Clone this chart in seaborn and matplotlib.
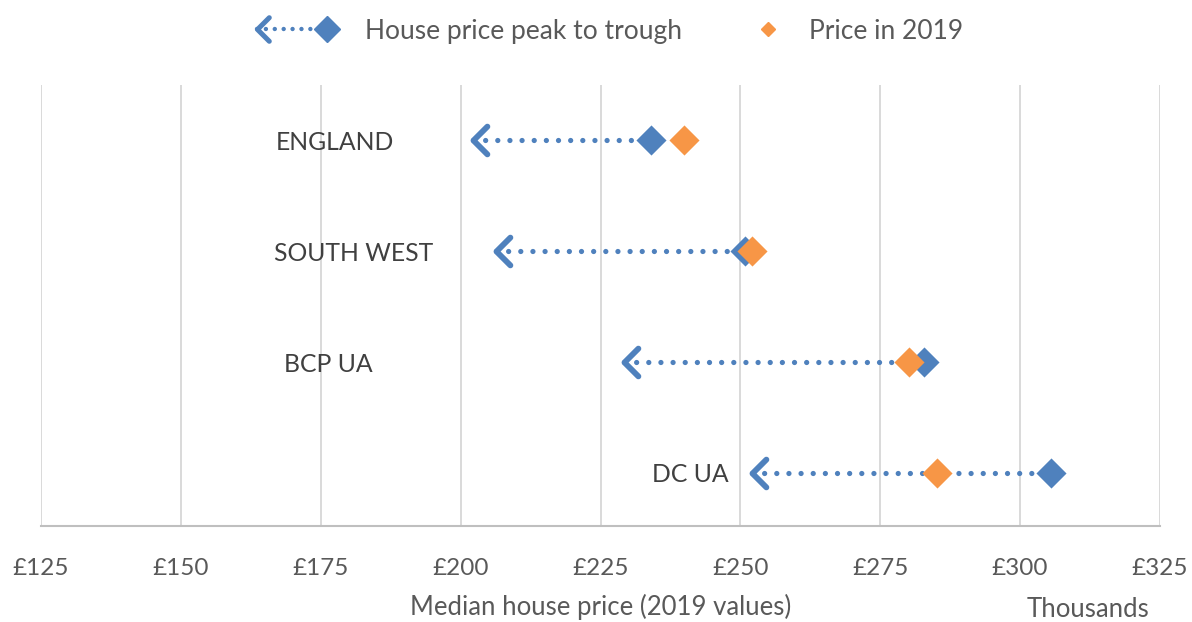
import numpy as np
import pandas as pd
import matplotlib.pyplot as plt
import seaborn as sns
from matplotlib.path import Path
from matplotlib.markers import MarkerStyle
from matplotlib.lines import Line2D
from matplotlib.legend_handler import HandlerBase

# data (thousands of pounds, 2019 values)
regions = ["ENGLAND", "SOUTH WEST", "BCP UA", "DC UA"]
peak = [234.1, 250.8, 282.9, 305.6]
trough = [202.2, 206.3, 229.2, 252.0]
price_2019 = [240.0, 252.1, 280.1, 285.1]
xticks = [125, 150, 175, 200, 225, 250, 275, 300, 325]

# label placement (data units) and row positions
label_x = [177.5, 180.9, 176.3, 241.0]
row_y = [4, 3, 2, 1]

blue = "#4f81bd"
orange = "#f79646"
grey_txt = "#595959"
dark_txt = "#404040"

sns.set_style("white")
plt.rcParams["font.family"] = ["Lato", "DejaVu Sans"]

df = pd.DataFrame({"region": regions, "y": row_y, "peak": peak,
                   "trough": trough, "price": price_2019})

fig = plt.figure(figsize=(11.92, 6.22), dpi=100)
ax = fig.add_axes([41 / 1192, 1 - 526 / 622, 1119 / 1192, 441 / 622])

chevron = Path([(1, 1), (0, 0), (1, -1)], [Path.MOVETO, Path.LINETO, Path.LINETO])
chev_marker = MarkerStyle(chevron, joinstyle="miter", capstyle="round")

for i, r in df.iterrows():
    ax.plot([r["trough"], r["peak"]], [r["y"], r["y"]], color=blue, lw=3.8,
            ls=(0, (0.001, 2.3)), dash_capstyle="round", zorder=2)
    ax.plot([r["trough"]], [r["y"]], marker=chev_marker, ms=20, mfc="none",
            mec=blue, mew=4.2, ls="none", zorder=3)
    ax.text(label_x[i], r["y"], r["region"], ha="center",
            va="center_baseline", fontsize=17.8, color=dark_txt)

sns.scatterplot(data=df, x="peak", y="y", marker="D", s=235, color=blue,
                linewidth=0, ax=ax, zorder=4)
sns.scatterplot(data=df, x="price", y="y", marker="D", s=235, color=orange,
                linewidth=0, ax=ax, zorder=5)

ax.set_xlim(125, 325)
ax.set_ylim(0.52, 4.5)
ax.set_xticks(xticks)
ax.set_xticklabels([f"£{t}" for t in xticks], fontsize=17.5, color=grey_txt)
ax.set_yticks([])
ax.tick_params(axis="x", length=0, pad=23)
ax.grid(axis="x", color="#d9d9d9", lw=1.4)
ax.set_axisbelow(True)
for s in ["left", "right", "top"]:
    ax.spines[s].set_visible(False)
ax.spines["bottom"].set_color("#bfbfbf")
ax.spines["bottom"].set_linewidth(1.5)
ax.set_xlabel("Median house price (2019 values)", fontsize=18.5, color=grey_txt,
              labelpad=11)
ax.set_ylabel("")
ax.text(0.9357, -0.19, "Thousands", transform=ax.transAxes, ha="center",
        va="center", fontsize=18.5, color=grey_txt)


class ArrowHandler(HandlerBase):
    def create_artists(self, legend, orig_handle, xdescent, ydescent, width,
                       height, fontsize, trans):
        y = height / 2 - ydescent
        x0 = -xdescent
        x1 = width - xdescent
        line = Line2D([x0, x1], [y, y], color=blue, lw=3.2,
                      ls=(0, (0.001, 2.0)), dash_capstyle="round", transform=trans)
        head = Line2D([x0], [y], marker=chev_marker, ms=17, mfc="none",
                      mec=blue, mew=3.6, ls="none", transform=trans)
        dia = Line2D([x1], [y], marker="D", ms=13, color=blue, ls="none",
                     transform=trans)
        return [line, head, dia]


class DiamondHandler(HandlerBase):
    def create_artists(self, legend, orig_handle, xdescent, ydescent, width,
                       height, fontsize, trans):
        y = height / 2 - ydescent
        x1 = width - xdescent
        dia = Line2D([x1 - 2], [y], marker="D", ms=7.5, color=orange,
                     ls="none", transform=trans)
        return [dia]


h1 = Line2D([], [], color=blue)
h2 = Line2D([], [], color=orange)
fig.legend([h1, h2], ["House price peak to trough", "Price in 2019"],
           handler_map={h1: ArrowHandler(), h2: DiamondHandler()}, loc="center",
           bbox_to_anchor=(0.5117, 0.95), ncol=2, frameon=False, fontsize=19,
           handlelength=2.65, handletextpad=1.45, columnspacing=0.7,
           labelcolor=grey_txt)

fig.savefig("out.png", dpi=100)
